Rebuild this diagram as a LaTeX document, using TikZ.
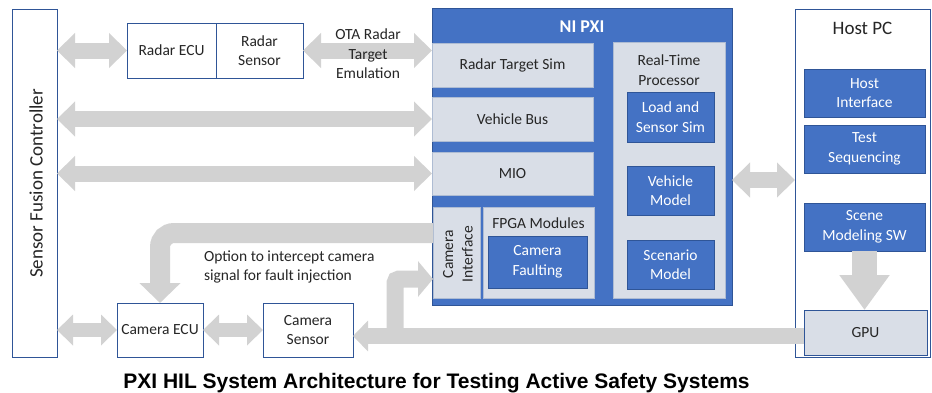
\documentclass[tikz,border=0pt]{standalone}
\usepackage{fontspec}
\setmainfont{Carlito}
\newfontfamily\titlefont{Liberation Sans}
\usetikzlibrary{arrows.meta,calc}
\definecolor{pxiblue}{HTML}{4472C4}
\definecolor{darkblue}{HTML}{2F5597}
\definecolor{panel}{HTML}{D9DEE7}
\definecolor{agray}{HTML}{D2D2D2}
\definecolor{txt}{HTML}{262626}
\begin{document}
\begin{tikzpicture}[x=1pt,y=-1pt,
  every node/.style={inner sep=0pt, outer sep=0pt, font=\fontsize{15.5}{19.5}\selectfont, text=txt, align=center},
  wbox/.style={draw=darkblue, line width=1pt, fill=white},
  pbox/.style={fill=panel, draw=panel!75!darkblue, line width=0.6pt},
  bbox/.style={fill=pxiblue, draw=darkblue, line width=1pt, text=white},
  dbl/.style={draw=agray, line width=16pt, arrows={Triangle[width=34pt,length=18pt]-Triangle[width=34pt,length=18pt]}},
  dbls/.style={draw=agray, line width=14pt, arrows={Triangle[width=30pt,length=16pt]-Triangle[width=30pt,length=16pt]}},
  sgl/.style={draw=agray, line width=16pt, arrows={-Triangle[width=30pt,length=15pt]}},
  elbow/.style={draw=agray, line width=20pt, rounded corners=14pt, arrows={-Triangle[width=40pt,length=20pt]}},
  branch/.style={draw=agray, line width=17pt, rounded corners=4pt, arrows={-Triangle[width=35pt,length=15pt]}},
  down/.style={draw=agray, line width=25pt, arrows={-Triangle[width=48pt,length=35pt]}},
]
\useasboundingbox (0,0) rectangle (932,392);

% Sensor fusion controller
\node[wbox, minimum width=45pt, minimum height=348pt] (ctrl) at (34.5,183) {};
\node[rotate=90, font=\fontsize{19}{22}\selectfont] (ctrllbl) at (36,183.5) {Sensor Fusion Controller};

% Radar
\node[wbox, minimum width=89pt, minimum height=55pt] (recu) at (171.5,50.5) {Radar ECU};
\node[wbox, minimum width=87pt, minimum height=55pt] (rsen) at (259.5,50.5) {Radar\\Sensor};

% NI PXI
\node[bbox, minimum width=300pt, minimum height=297pt] (pxi) at (582,156.5) {};
\node[text=white, font=\fontsize{18}{21}\selectfont\bfseries] (pxilbl) at (582,27) {NI PXI};
\node[pbox, minimum width=161pt, minimum height=44pt] (rts) at (512.5,65) {Radar Target Sim};
\node[pbox, minimum width=161pt, minimum height=44pt] (vbus) at (512.5,119) {Vehicle Bus};
\node[pbox, minimum width=161pt, minimum height=43pt] (mio) at (512.5,173.5) {MIO};
\node[pbox, minimum width=112pt, minimum height=256pt] (rtp) at (669,170) {};
\node (rtplbl) at (669,70) {Real-Time\\Processor};
\node[bbox, minimum width=87pt, minimum height=50pt] (lss) at (670.5,117) {Load and\\Sensor Sim};
\node[bbox, minimum width=87pt, minimum height=49pt] (vm) at (670.5,190.5) {Vehicle\\Model};
\node[bbox, minimum width=87pt, minimum height=49pt] (sm) at (670.5,264.5) {Scenario\\Model};
\node[pbox, minimum width=47pt, minimum height=91pt] (camif) at (456.5,252.5) {};
\node[rotate=90] (camiflbl) at (458,254) {Camera\\Interface};
\node[pbox, minimum width=111pt, minimum height=91pt] (fpga) at (538.5,252.5) {};
\node (fpgalbl) at (538.5,223) {FPGA Modules};
\node[bbox, minimum width=99pt, minimum height=52pt] (cf) at (537.5,262) {Camera\\Faulting};

% Host PC
\node[wbox, minimum width=135pt, minimum height=348pt] (host) at (862.5,183) {};
\node[font=\fontsize{19}{22}\selectfont] (hostlbl) at (862.5,28) {Host PC};
\node[bbox, minimum width=121pt, minimum height=48pt] (hi) at (864.5,93) {Host\\Interface};
\node[bbox, minimum width=121pt, minimum height=48pt] (ts) at (864.5,149) {Test\\Sequencing};
\node[bbox, minimum width=121pt, minimum height=48pt] (scene) at (864.5,227) {Scene\\Modeling SW};
\node[pbox, draw=darkblue, line width=1pt, minimum width=123pt, minimum height=45pt] (gpu) at (865.5,332.5) {GPU};

% Camera
\node[wbox, minimum width=86pt, minimum height=54pt] (camecu) at (160,330) {Camera ECU};
\node[wbox, minimum width=90pt, minimum height=54pt] (camsen) at (308,330) {Camera\\Sensor};

% connectors
\draw[dbl] (ctrl.east |- recu.west) -- (recu.west);
\draw[dbl] (rsen.east) -- (rsen.east -| pxi.west);
\draw[dbl] (ctrl.east |- vbus.west) -- (vbus.west);
\draw[dbl] (ctrl.east |- mio.west) -- (mio.west);
\coordinate (pa) at ([yshift=-23.5pt]pxi.east);
\draw[dbl] (pa) -- (pa -| host.west);
\draw[down] (scene.south) -- (scene.south |- gpu.north);
\coordinate (ga) at ([yshift=-3.5pt]gpu.west);
\draw[sgl] (ga) -- (ga -| camsen.east);
\coordinate (br) at (395,340);
\draw[branch] (br) |- ([yshift=-26.5pt]camif.west);
\draw[elbow] ([yshift=19.5pt]camif.west) -| (camecu.north);
\draw[dbls] (ctrl.east |- camecu.west) -- (camecu.west);
\draw[dbls] (camecu.east) -- (camsen.west);

% labels
\node (ota) at (368,54) {OTA Radar\\Target\\Emulation};
\node[anchor=west, align=left] (opt) at (204,267) {Option to intercept camera\\signal for fault injection};
\node[anchor=base, text=black, font=\titlefont\bfseries\fontsize{21}{24}\selectfont] (title) at (436.5,388) {PXI HIL System Architecture for Testing Active Safety Systems};
\end{tikzpicture}
\end{document}
